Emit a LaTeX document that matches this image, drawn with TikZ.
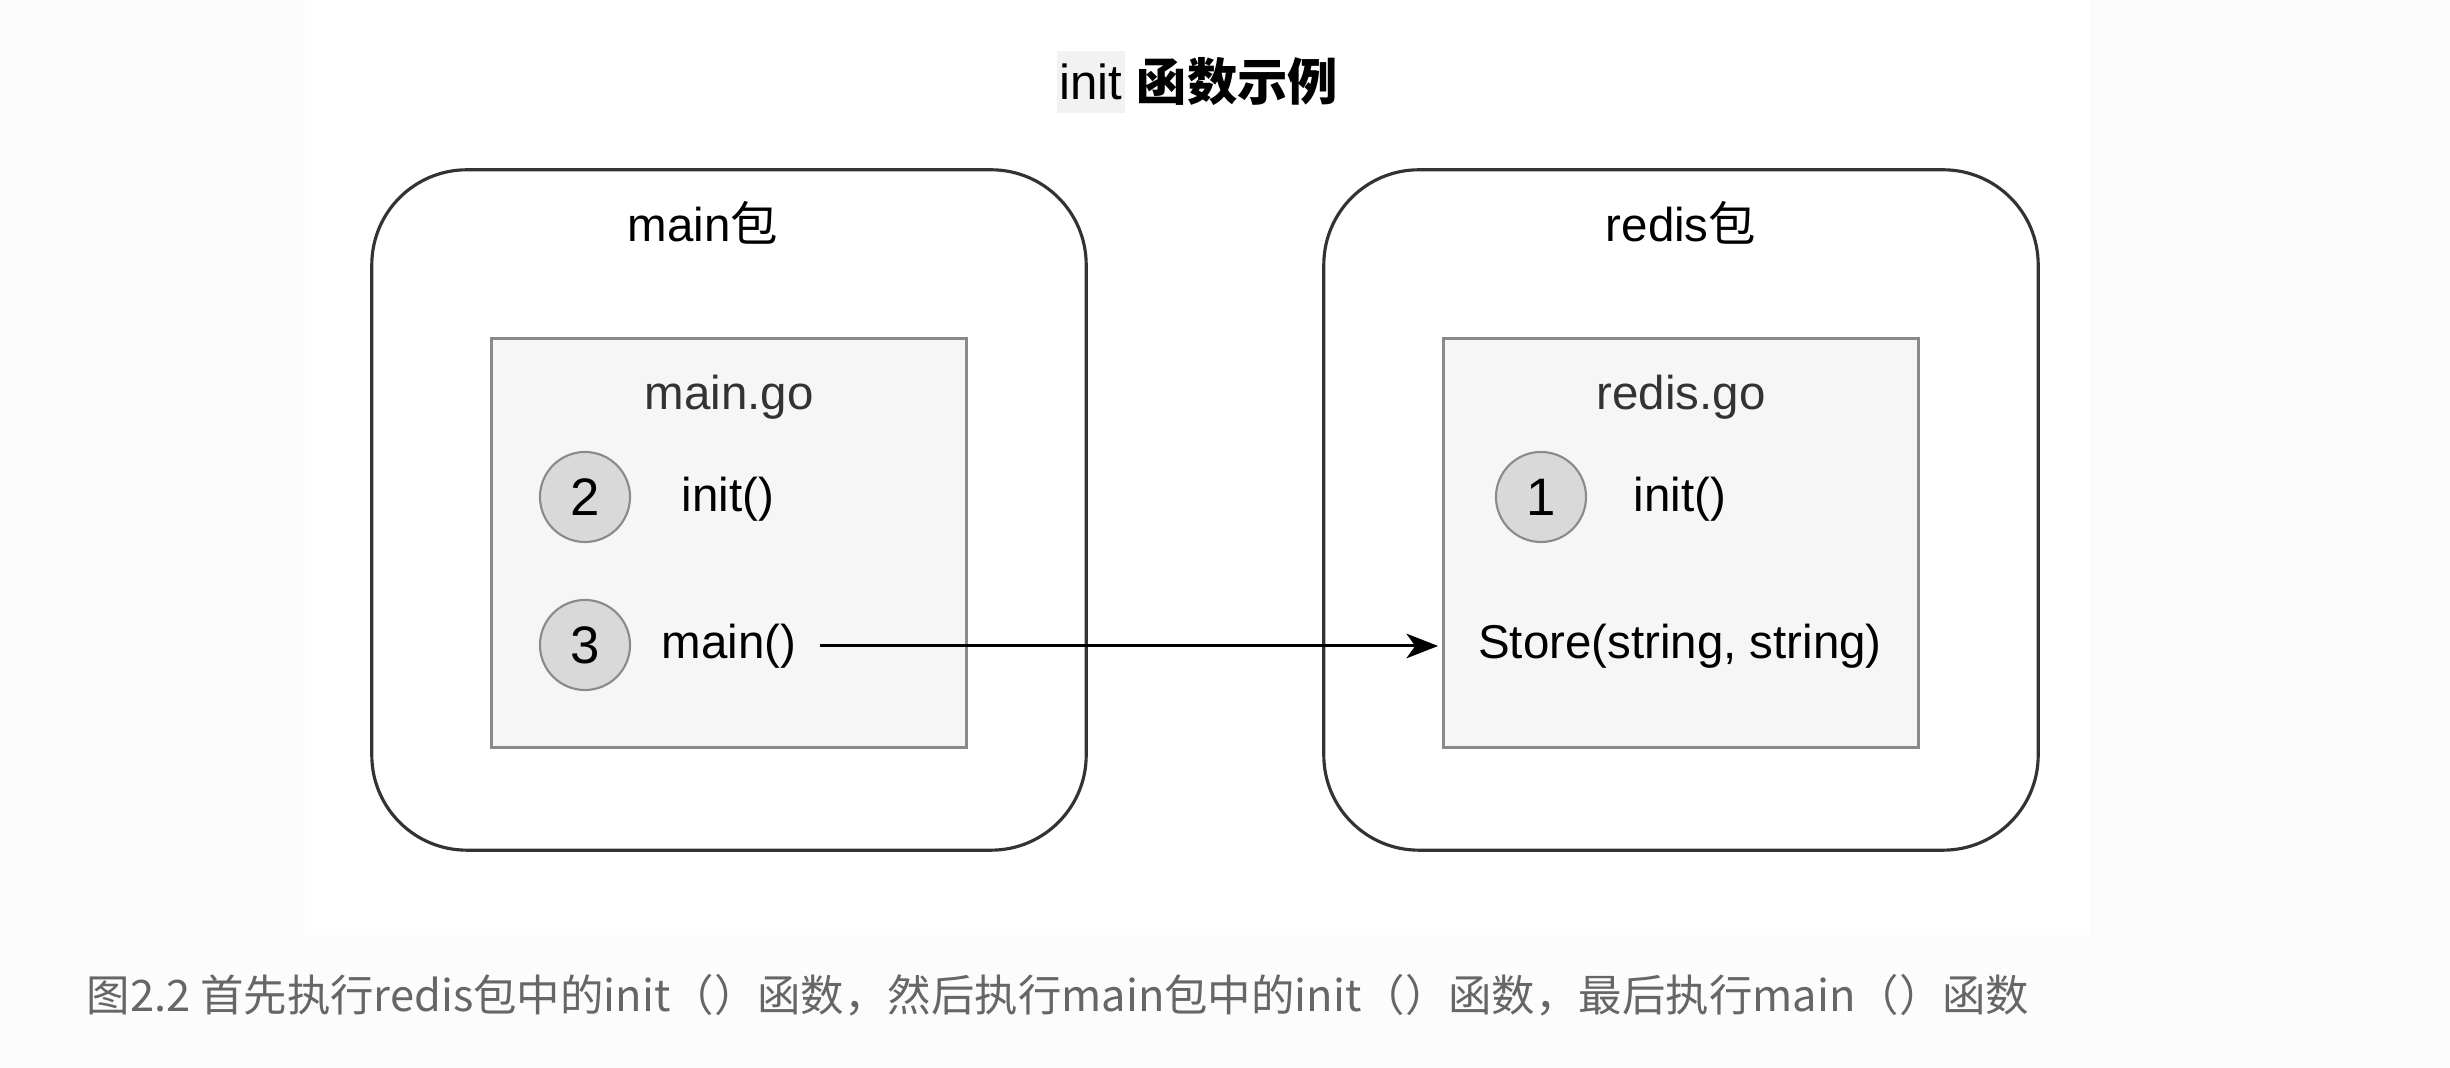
\documentclass[tikz,border=0pt]{standalone}
\usepackage{fontspec}
\setmainfont{Liberation Sans}
\newfontfamily\cjk{Noto Sans CJK SC}
\usetikzlibrary{arrows.meta}

\definecolor{pagegray}{HTML}{FCFCFC}
\definecolor{codegray}{HTML}{F2F2F2}
\definecolor{linegray}{HTML}{333333}
\definecolor{edgegray}{HTML}{8A8A8A}
\definecolor{boxgray}{HTML}{F6F6F6}
\definecolor{dotgray}{HTML}{D9D9D9}
\definecolor{capgray}{HTML}{666666}

\tikzset{
  pkgbox/.style={draw=linegray, line width=0.9pt, rounded corners=0.95cm,
    minimum width=7.14cm, minimum height=6.8cm},
  filebox/.style={draw=edgegray, line width=1pt, fill=boxgray,
    minimum width=4.75cm, minimum height=4.09cm},
  order/.style={circle, draw=edgegray, fill=dotgray, line width=0.6pt,
    minimum size=0.9cm, inner sep=0pt, font=\fontsize{15}{16}\selectfont},
  lbl/.style={inner sep=0pt, font=\fontsize{13.5}{16}\selectfont},
}

\begin{document}
\begin{tikzpicture}[x=0.01cm, y=-0.01cm]

    \def\Xl{729};
    \def\Xr{1681};
    \def\Ypkg{510};
    \def\Yfile{543};
    \def\Yname{397};
    \def\Ydot{497};
    \def\Yinit{499};
    \def\Yfn{646};

    % page
    \useasboundingbox (0,0) rectangle (2450,1068);
    \fill[pagegray] (0,0) rectangle (2450,1068);
    \fill[white] (305,0) rectangle (2090,935);

    % title
    \node[fill=codegray, inner sep=0pt, minimum width=0.68cm, minimum height=0.61cm,
      font=\fontsize{14}{16}\selectfont] (tinit) at (1091,82) {init};
    \node[anchor=west, inner sep=0pt, font=\fontsize{14.3}{16}\selectfont\cjk\bfseries]
      (tcjk) at (1136,82) {函数示例};

    % packages
    \node[pkgbox] (mainpkg) at (\Xl,\Ypkg) {};
    \node[pkgbox] (redispkg) at (\Xr,\Ypkg) {};
    \node[lbl] (mainpkgname) at (703,223) {main{\cjk 包}};
    \node[lbl] (redispkgname) at (\Xr,223) {redis{\cjk 包}};

    % files
    \node[filebox] (mainfile) at (\Xl,\Yfile) {};
    \node[filebox] (redisfile) at (\Xr,\Yfile) {};
    \node[lbl, text=linegray] (mainname) at (\Xl,\Yname) {main.go};
    \node[lbl, text=linegray] (redisname) at (\Xr,\Yname) {redis.go};

    % steps
    \node[order] (two) at (585,\Ydot) {2};
    \node[lbl] (maininit) at (728,\Yinit) {init()};
    \node[order] (three) at (585,645) {3};
    \node[lbl] (mainfn) at (729,\Yfn) {main()};
    \node[order] (one) at (1541,\Ydot) {1};
    \node[lbl] (redisinit) at (1680,\Yinit) {init()};
    \node[lbl] (storefn) at (1680,\Yfn) {Store(string, string)};

    % call
    \draw[-{Stealth[length=9pt, width=7pt, inset=2.5pt]}, line width=0.85pt,
      shorten <=0.23cm, shorten >=1pt]
      (mainfn.east) -- (mainfn.east -| redisfile.west);

    % caption
    \node[anchor=west, inner sep=0pt, text=capgray, font=\fontsize{12.35}{16}\selectfont\cjk]
      (caption) at (86,995)
      {图2.2 首先执行redis包中的init（）函数，然后执行main包中的init（）函数，最后执行main（）函数};
\end{tikzpicture}
\end{document}
